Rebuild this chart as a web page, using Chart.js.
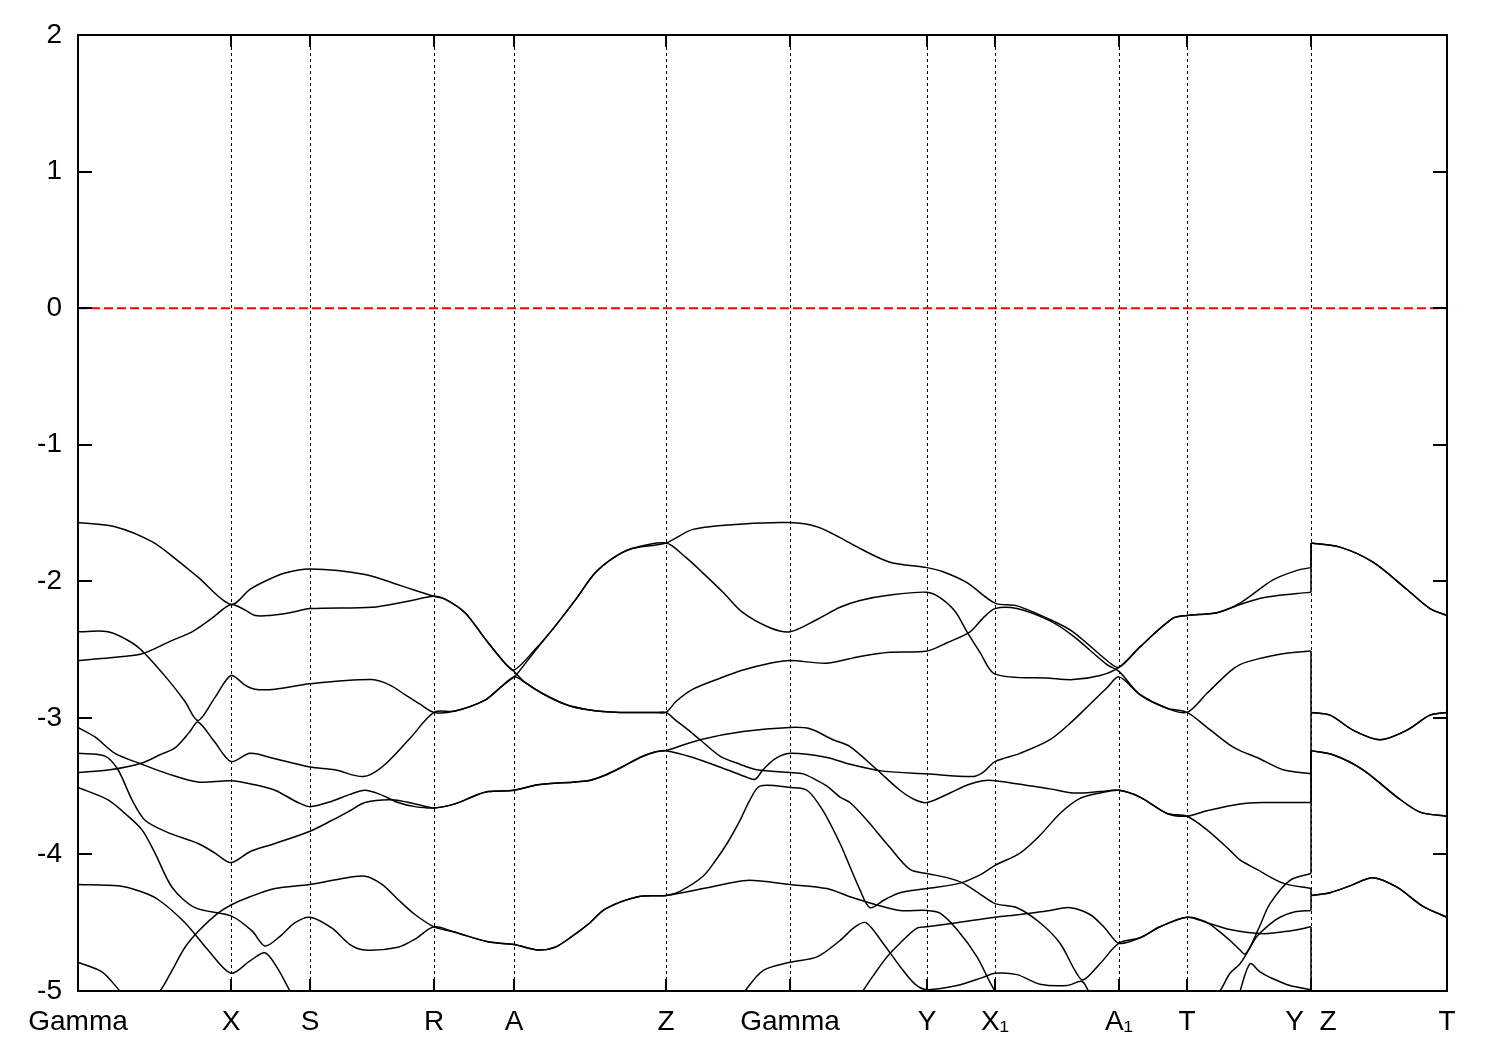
<!DOCTYPE html>
<html lang="en">
<head>
<meta charset="UTF-8">
<title>Band structure</title>
<script src="https://cdn.jsdelivr.net/npm/chart.js@4.4.0/dist/chart.umd.min.js"></script>
<style>
  html, body { margin: 0; padding: 0; background: #fff; }
  #wrap { width: 1500px; height: 1050px; position: relative; }
</style>
</head>
<body>
<div id="wrap"><canvas id="bandsChart"></canvas></div>
<script>
// high-symmetry points along the path (k distance) and their labels
const kTicks = [0, 1.53, 2.32, 3.56, 4.36, 5.88, 7.12, 8.49, 9.17, 10.41, 11.09, 12.33, 13.69];
const kLabels = ['Gamma', 'X', 'S', 'R', 'A', 'Z', 'Gamma', 'Y', 'X\u2081', 'A\u2081', 'T', 'Y  Z', 'T'];
const energyTicks = [-5, -4, -3, -2, -1, 0, 1, 2];
const fermiLevel = 0;

// bands: [k, E] (Y|Z jump = two points at the same k)
const band1 = [[0,-1.57],[0.37,-1.60],[0.74,-1.71],[1.00,-1.85],[1.20,-1.97],[1.53,-2.17],
  [1.72,-2.06],[1.87,-2.00],[2.07,-1.94],[2.32,-1.91],[2.87,-1.95],[3.22,-2.03],[3.56,-2.11],
  [3.67,-2.13],[3.87,-2.23],[4.07,-2.42],[4.27,-2.60],[4.36,-2.65],
  [4.57,-2.50],[4.77,-2.33],[4.97,-2.14],[5.17,-1.94],[5.35,-1.83],[5.54,-1.76],[5.88,-1.72],
  [6.15,-1.62],[6.65,-1.58],[7.12,-1.57],[7.39,-1.60],[7.62,-1.68],[7.82,-1.76],[8.12,-1.86],[8.49,-1.90],
  [8.65,-1.93],[8.89,-2.01],[9.17,-2.16],[9.39,-2.18],[9.72,-2.28],[9.95,-2.37],[10.29,-2.58],[10.41,-2.63],
  [10.62,-2.48],[10.95,-2.27],[11.09,-2.25],[11.39,-2.23],[11.62,-2.16],[11.95,-1.99],[12.19,-1.92],[12.33,-1.90],
  [12.33,-1.72],[12.62,-1.75],[12.95,-1.86],[13.29,-2.06],[13.52,-2.20],[13.69,-2.25]];

const band2 = [[0,-2.58],[0.32,-2.56],[0.64,-2.53],[0.92,-2.44],[1.14,-2.37],[1.34,-2.27],[1.53,-2.17],
  [1.67,-2.21],[1.77,-2.25],[1.92,-2.25],[2.12,-2.23],[2.32,-2.20],[2.94,-2.19],[3.27,-2.15],[3.56,-2.11],
  [3.67,-2.13],[3.87,-2.23],[4.07,-2.42],[4.27,-2.60],[4.36,-2.66],
  [4.47,-2.74],[4.64,-2.82],[4.87,-2.90],[5.10,-2.94],[5.42,-2.96],[5.78,-2.96],[5.88,-2.96],
  [5.98,-2.88],[6.15,-2.79],[6.42,-2.71],[6.65,-2.65],[6.92,-2.60],[7.12,-2.58],
  [7.49,-2.60],[7.82,-2.55],[8.12,-2.52],[8.49,-2.51],
  [8.69,-2.45],[8.92,-2.37],[9.05,-2.27],[9.17,-2.20],
  [9.39,-2.20],[9.72,-2.29],[9.95,-2.40],[10.29,-2.61],[10.41,-2.66],
  [10.62,-2.83],[10.89,-2.93],[11.09,-2.96],
  [11.29,-2.82],[11.52,-2.66],[11.62,-2.61],[11.79,-2.57],[12.05,-2.53],[12.33,-2.51],
  [12.33,-2.96],[12.52,-2.98],[12.75,-3.09],[13.02,-3.16],[13.29,-3.09],[13.52,-2.98],[13.69,-2.96]];

const band3 = [[0,-2.37],[0.30,-2.37],[0.54,-2.45],[0.67,-2.53],[0.90,-2.72],[1.07,-2.88],[1.20,-3.02],[1.37,-2.85],[1.53,-2.69],
  [1.67,-2.76],[1.77,-2.79],[1.97,-2.79],[2.32,-2.75],[2.94,-2.72],[3.12,-2.76],[3.27,-2.83],[3.42,-2.90],[3.56,-2.96],
  [3.77,-2.95],[4.07,-2.87],[4.22,-2.78],[4.36,-2.70],
  [4.40,-2.67],[4.57,-2.51],[4.77,-2.33],[4.97,-2.14],[5.17,-1.94],[5.35,-1.83],[5.54,-1.76],[5.88,-1.72],
  [6.07,-1.82],[6.25,-1.94],[6.45,-2.08],[6.65,-2.23],[6.92,-2.34],[7.12,-2.37],
  [7.39,-2.28],[7.62,-2.19],[7.82,-2.14],[8.12,-2.10],[8.49,-2.08],
  [8.62,-2.12],[8.77,-2.22],[8.89,-2.37],[9.02,-2.52],[9.17,-2.68],
  [9.72,-2.71],[9.95,-2.72],[10.22,-2.69],[10.41,-2.63],
  [10.62,-2.48],[10.95,-2.27],[11.09,-2.25],
  [11.39,-2.23],[11.62,-2.17],[11.85,-2.12],[12.19,-2.09],[12.33,-2.08],
  [12.33,-1.72],[12.62,-1.75],[12.95,-1.86],[13.29,-2.06],[13.52,-2.20],[13.69,-2.25]];

const band4 = [[0,-3.40],[0.32,-3.38],[0.64,-3.33],[0.82,-3.27],[0.97,-3.22],[1.12,-3.10],[1.20,-3.03],[1.36,-3.17],[1.53,-3.32],
  [1.72,-3.26],[1.97,-3.30],[2.32,-3.36],[2.57,-3.38],[2.85,-3.43],[3.04,-3.36],[3.32,-3.15],[3.56,-2.96],
  [3.77,-2.95],[4.07,-2.87],[4.22,-2.78],[4.36,-2.70],
  [4.47,-2.74],[4.64,-2.82],[4.87,-2.90],[5.10,-2.94],[5.42,-2.96],[5.78,-2.96],[5.88,-2.96],
  [5.98,-3.02],[6.07,-3.07],[6.22,-3.16],[6.42,-3.28],[6.62,-3.34],[6.79,-3.38],[7.12,-3.40],
  [7.25,-3.41],[7.37,-3.45],[7.49,-3.50],[7.62,-3.58],[7.72,-3.62],[7.89,-3.75],[8.12,-3.95],[8.32,-4.11],[8.49,-4.14],
  [8.69,-4.17],[8.85,-4.21],[9.02,-4.29],[9.17,-4.36],
  [9.39,-4.39],[9.62,-4.50],[9.82,-4.65],[9.97,-4.85],[10.05,-4.92],[10.22,-4.80],[10.41,-4.65],
  [10.62,-4.61],[10.82,-4.53],[11.09,-4.46],
  [11.29,-4.50],[11.52,-4.55],[11.85,-4.58],[12.12,-4.56],[12.33,-4.53],
  [12.33,-5.60],[13.69,-5.60]];

const band5 = [[0,-3.07],[0.17,-3.14],[0.37,-3.26],[0.64,-3.34],[0.90,-3.41],[1.20,-3.47],[1.53,-3.46],
  [1.77,-3.49],[1.97,-3.53],[2.20,-3.62],[2.32,-3.65],[2.54,-3.61],[2.72,-3.56],[2.87,-3.53],[3.02,-3.56],[3.20,-3.62],[3.37,-3.65],[3.56,-3.66],
  [3.77,-3.63],[3.97,-3.57],[4.10,-3.54],[4.36,-3.53],
  [4.60,-3.49],[5.10,-3.46],[5.27,-3.42],[5.44,-3.36],[5.62,-3.29],[5.77,-3.25],[5.88,-3.24],
  [6.22,-3.16],[6.65,-3.10],[7.12,-3.07],
  [7.32,-3.08],[7.55,-3.16],[7.72,-3.21],[7.99,-3.38],[8.22,-3.53],[8.37,-3.60],[8.49,-3.62],
  [8.72,-3.55],[8.90,-3.49],[9.05,-3.46],[9.17,-3.46],
  [9.72,-3.52],[9.95,-3.55],[10.22,-3.54],[10.41,-3.53],
  [10.62,-3.58],[10.89,-3.70],[11.09,-3.72],
  [11.29,-3.68],[11.62,-3.63],[11.85,-3.62],[12.33,-3.62],
  [12.33,-3.24],[12.55,-3.27],[12.85,-3.38],[13.19,-3.58],[13.42,-3.69],[13.69,-3.72]];

const band6 = [[0,-3.26],[0.27,-3.28],[0.40,-3.38],[0.54,-3.60],[0.67,-3.75],[0.90,-3.84],[1.20,-3.92],[1.37,-3.99],[1.53,-4.06],
  [1.72,-3.98],[1.97,-3.92],[2.32,-3.83],[2.54,-3.75],[2.72,-3.68],[2.87,-3.62],[3.14,-3.60],[3.37,-3.63],[3.56,-3.66],
  [3.77,-3.63],[3.97,-3.57],[4.10,-3.54],[4.36,-3.53],
  [4.60,-3.49],[5.10,-3.46],[5.27,-3.42],[5.44,-3.36],[5.62,-3.29],[5.77,-3.25],[5.88,-3.24],
  [6.15,-3.29],[6.49,-3.38],[6.67,-3.43],[6.77,-3.45],[6.85,-3.38],[6.97,-3.30],[7.12,-3.26],
  [7.49,-3.29],[7.72,-3.34],[8.05,-3.39],[8.49,-3.41],
  [8.95,-3.43],[9.05,-3.40],[9.17,-3.32],
  [9.42,-3.26],[9.72,-3.16],[9.95,-3.02],[10.12,-2.90],[10.29,-2.78],[10.41,-2.70],
  [10.62,-2.83],[10.89,-2.93],[11.09,-2.96],
  [11.29,-3.07],[11.52,-3.20],[11.62,-3.24],[11.79,-3.29],[12.05,-3.38],[12.33,-3.41],
  [12.33,-2.96],[12.52,-2.98],[12.75,-3.09],[13.02,-3.16],[13.29,-3.09],[13.52,-2.98],[13.69,-2.96]];

const band7 = [[0,-3.51],[0.30,-3.60],[0.47,-3.70],[0.64,-3.82],[0.77,-3.99],[0.94,-4.24],[1.17,-4.39],[1.53,-4.45],
  [1.74,-4.56],[1.87,-4.67],[2.02,-4.60],[2.17,-4.50],[2.32,-4.46],[2.54,-4.54],[2.72,-4.66],[2.87,-4.70],[3.20,-4.68],[3.37,-4.62],[3.56,-4.53],
  [3.77,-4.57],[4.10,-4.64],[4.36,-4.66],
  [4.60,-4.70],[4.77,-4.68],[4.94,-4.60],[5.12,-4.50],[5.27,-4.40],[5.60,-4.31],[5.88,-4.30],
  [6.02,-4.27],[6.25,-4.16],[6.37,-4.05],[6.49,-3.92],[6.62,-3.75],[6.72,-3.60],[6.82,-3.50],[7.12,-3.51],
  [7.29,-3.53],[7.45,-3.68],[7.62,-3.92],[7.72,-4.09],[7.82,-4.26],[7.92,-4.39],[8.07,-4.33],[8.22,-4.28],[8.49,-4.25],
  [8.82,-4.21],[9.02,-4.15],[9.17,-4.08],
  [9.42,-3.99],[9.62,-3.86],[9.82,-3.70],[10.02,-3.59],[10.22,-3.55],[10.41,-3.53],
  [10.62,-3.58],[10.89,-3.70],[11.09,-3.72],
  [11.29,-3.82],[11.52,-3.97],[11.62,-4.04],[11.79,-4.11],[12.05,-4.21],[12.33,-4.25],
  [12.33,-4.30],[12.52,-4.28],[12.72,-4.23],[12.95,-4.17],[13.19,-4.24],[13.45,-4.38],[13.69,-4.46]];

const band8 = [[0,-4.22],[0.40,-4.23],[0.62,-4.27],[0.80,-4.33],[1.07,-4.50],[1.30,-4.70],[1.53,-4.87],
  [1.72,-4.78],[1.87,-4.72],[2.00,-4.84],[2.12,-5.00],[2.32,-5.25],[3.56,-5.60],[4.36,-5.70],[5.88,-5.50],
  [6.47,-5.20],[6.67,-5.00],[6.85,-4.85],[7.12,-4.79],
  [7.39,-4.75],[7.62,-4.63],[7.77,-4.53],[7.88,-4.50],[8.05,-4.65],[8.22,-4.82],[8.37,-4.95],[8.49,-4.99],
  [8.79,-4.96],[9.05,-4.90],[9.17,-4.87],
  [9.39,-4.88],[9.62,-4.95],[9.89,-4.96],[10.04,-4.93],[10.12,-5.02],[10.41,-5.30],[11.09,-5.40],
  [11.22,-5.20],[11.42,-5.00],[11.52,-4.87],[11.62,-4.80],[11.72,-4.68],[11.82,-4.52],[11.92,-4.36],[12.12,-4.19],[12.33,-4.14],
  [12.33,-3.24],[12.55,-3.27],[12.85,-3.38],[13.19,-3.58],[13.42,-3.69],[13.69,-3.72]];

const band9 = [[0,-4.79],[0.24,-4.86],[0.42,-5.00],[0.62,-5.15],[0.82,-5.00],[0.94,-4.85],[1.07,-4.68],[1.22,-4.55],[1.40,-4.43],[1.53,-4.37],
  [1.72,-4.31],[1.97,-4.25],[2.32,-4.22],[2.62,-4.18],[2.87,-4.16],[3.04,-4.22],[3.20,-4.33],[3.37,-4.44],[3.56,-4.53],
  [3.77,-4.57],[4.10,-4.64],[4.36,-4.66],
  [4.60,-4.70],[4.77,-4.68],[4.94,-4.60],[5.12,-4.50],[5.27,-4.40],[5.60,-4.31],[5.88,-4.30],
  [6.32,-4.24],[6.69,-4.19],[7.12,-4.22],
  [7.49,-4.25],[7.72,-4.31],[7.99,-4.37],[8.22,-4.41],[8.49,-4.41],
  [8.62,-4.43],[8.79,-4.55],[8.99,-4.75],[9.17,-5.00],[9.50,-5.30],[10.22,-5.40],[11.09,-5.50],
  [11.52,-5.20],[11.62,-5.00],[11.72,-4.80],[11.82,-4.86],[11.92,-4.90],[12.12,-4.96],[12.33,-4.99],
  [12.33,-5.60],[13.69,-5.60]];

const band10 = [[7.62,-5.30],[7.85,-5.00],[7.97,-4.87],[8.09,-4.75],[8.22,-4.65],[8.39,-4.54],[8.49,-4.53],
  [8.79,-4.50],[9.17,-4.46],
  [9.42,-4.44],[9.72,-4.41],[9.92,-4.39],[10.12,-4.44],[10.27,-4.54],[10.41,-4.65],
  [10.62,-4.61],[10.82,-4.53],[11.09,-4.46],
  [11.27,-4.49],[11.39,-4.55],[11.52,-4.63],[11.62,-4.70],[11.67,-4.73],[11.79,-4.60],[11.92,-4.51],[12.02,-4.46],[12.17,-4.42],[12.33,-4.41],
  [12.33,-4.30],[12.52,-4.28],[12.72,-4.23],[12.95,-4.17],[13.19,-4.24],[13.45,-4.38],[13.69,-4.46]];

const bands = [band1, band2, band3, band4, band5, band6, band7, band8, band9, band10];

const FONT = "'Liberation Sans', Arial, Helvetica, sans-serif";
const kMax = kTicks[kTicks.length - 1];

// cut a band where the path jumps (two points at the same k) so the
// smooth curves don't bulge around the vertical connector
function splitBand(pts) {
  const pieces = [];
  let start = 0;
  for (let i = 1; i < pts.length; i++) {
    if (pts[i][0] === pts[i - 1][0]) {
      pieces.push({ pts: pts.slice(start, i), tension: 0.3 });
      pieces.push({ pts: [pts[i - 1], pts[i]], tension: 0 });
      start = i;
    }
  }
  pieces.push({ pts: pts.slice(start), tension: 0.3 });
  return pieces;
}

const datasets = [];
bands.forEach((b, n) => {
  splitBand(b).forEach(p => {
    datasets.push({
      label: 'band' + (n + 1),
      data: p.pts.map(([k, e]) => ({ x: k, y: e })),
      borderColor: '#000',
      borderWidth: 1.5,
      pointRadius: 0,
      tension: p.tension,
      fill: false
    });
  });
});

// Fermi level
datasets.push({
  label: 'Ef',
  data: [{ x: 0, y: fermiLevel }, { x: kMax, y: fermiLevel }],
  borderColor: '#f00',
  borderWidth: 2,
  borderDash: [9, 4],
  pointRadius: 0,
  tension: 0
});

// gnuplot-like frame with inward tick marks on all four sides
const frameTicks = {
  id: 'frameTicks',
  afterDatasetsDraw(chart) {
    const { ctx, chartArea: a, scales: { x, y } } = chart;
    ctx.save();
    ctx.strokeStyle = '#000';
    ctx.lineWidth = 2;
    ctx.beginPath();
    energyTicks.forEach(v => {
      const py = Math.round(y.getPixelForValue(v));
      ctx.moveTo(a.left, py); ctx.lineTo(a.left + 14, py);
      ctx.moveTo(a.right, py); ctx.lineTo(a.right - 14, py);
    });
    kTicks.forEach(v => {
      const px = Math.round(x.getPixelForValue(v));
      ctx.moveTo(px, a.bottom); ctx.lineTo(px, a.bottom - 12);
      ctx.moveTo(px, a.top); ctx.lineTo(px, a.top + 12);
    });
    ctx.stroke();
    ctx.strokeRect(a.left, a.top, a.right - a.left, a.bottom - a.top);
    ctx.restore();
  }
};

new Chart(document.getElementById('bandsChart'), {
  type: 'line',
  data: { datasets },
  options: {
    responsive: true,
    maintainAspectRatio: false,
    animation: false,
    layout: { padding: { top: 35, right: 53, left: 0, bottom: 0 } },
    plugins: { legend: { display: false }, tooltip: { enabled: false } },
    scales: {
      x: {
        type: 'linear',
        min: 0,
        max: kMax,
        afterBuildTicks: (scale) => { scale.ticks = kTicks.map(v => ({ value: v })); },
        afterFit: (scale) => { scale.height = 59; },
        grid: { display: true, color: '#000', lineWidth: 1, drawTicks: false },
        border: { display: false, dash: [3, 3] },
        ticks: {
          autoSkip: false,
          maxRotation: 0,
          padding: 14,
          color: '#000',
          font: { family: FONT, size: 28 },
          callback: (v, i) => kLabels[i]
        }
      },
      y: {
        min: -5,
        max: 2,
        afterBuildTicks: (scale) => { scale.ticks = energyTicks.map(v => ({ value: v })); },
        afterFit: (scale) => { scale.width = 78; },
        grid: { display: false, drawTicks: false },
        border: { display: false },
        ticks: {
          padding: 16,
          color: '#000',
          font: { family: FONT, size: 28 },
          callback: (v) => String(v)
        }
      }
    }
  },
  plugins: [frameTicks]
});
</script>
</body>
</html>
